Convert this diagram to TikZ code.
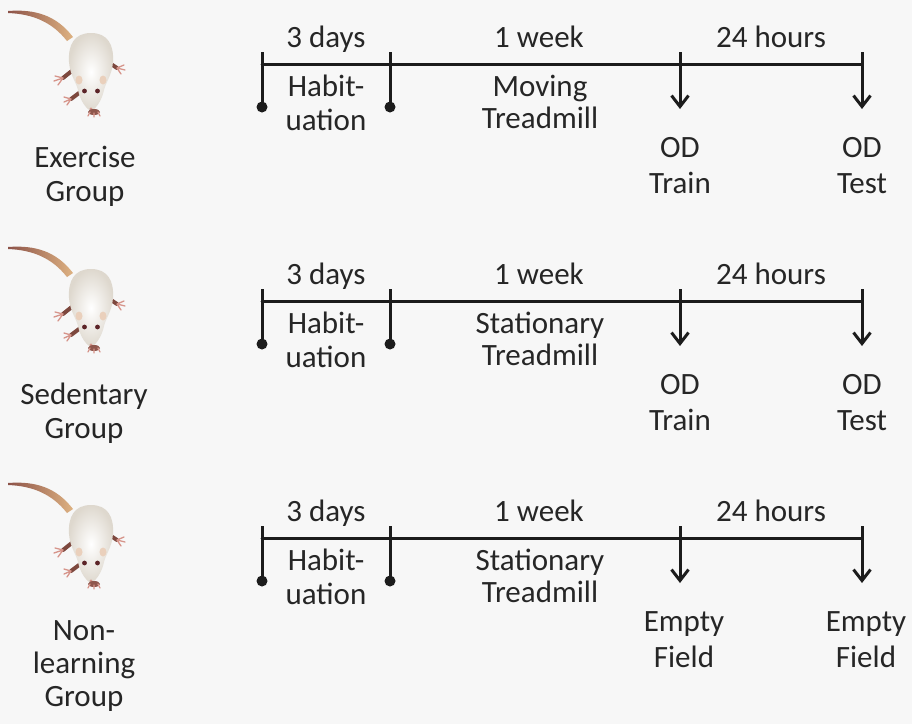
\documentclass[tikz,border=0pt]{standalone}
\usepackage{fontspec}
\setmainfont{Carlito}
\usetikzlibrary{arrows.meta}

\definecolor{ink}{RGB}{28,28,28}
\definecolor{txt}{RGB}{38,38,38}
\definecolor{paper}{RGB}{247,247,247}
\definecolor{fur}{RGB}{222,216,206}
\definecolor{tailtip}{RGB}{140,82,72}
\definecolor{tailbase}{RGB}{222,178,130}
\definecolor{pawdark}{RGB}{125,72,62}
\definecolor{toe}{RGB}{214,148,138}
\definecolor{ear}{RGB}{234,208,188}
\definecolor{eye}{RGB}{92,36,40}

\tikzset{
  lbl/.style={font=\fontsize{31}{36}\selectfont, text=txt, anchor=base, inner sep=0pt},
  axisline/.style={draw=ink, line width=3pt, line cap=round},
  stopline/.style={draw=ink, line width=3pt},
  stopdot/.style={fill=ink},
  eventline/.style={draw=ink, line width=3pt, -{Straight Barb[length=11pt,width=17pt,line width=3pt]}},
  leg/.style={draw=pawdark, line width=4pt, line cap=round},
  toeline/.style={draw=toe, line width=1.3pt, line cap=round},
  % a white rat seen from above, head down
  rat/.pic={
    % tail
    \shade[left color=tailtip, right color=tailbase]
      (8,11) .. controls (35,9) and (56,15) .. (73,37)
      -- (67,41) .. controls (52,22) and (33,14) .. (8,13) -- cycle;
    % legs and toes
    \draw[leg] (108,62) -- (117,68);
    \draw[toeline] (117,68) -- (124,65) (117,68) -- (125,70) (117,68) -- (121,74);
    \draw[leg] (73,70) -- (63,78);
    \draw[toeline] (63,78) -- (55,76) (63,78) -- (54,81) (63,78) -- (58,85);
    \draw[leg] (79,93) -- (71,99);
    \draw[toeline] (71,99) -- (64,97) (71,99) -- (64,102) (71,99) -- (67,105);
    % body and head
    \shade[inner color=white, outer color=fur]
      (91,33) .. controls (108,33) and (114,45) .. (113,62)
      .. controls (112,75) and (106,82) .. (104,90)
      .. controls (102,100) and (96,109) .. (91,111)
      .. controls (86,109) and (80,100) .. (78,90)
      .. controls (76,82) and (70,75) .. (69,62)
      .. controls (68,45) and (74,33) .. (91,33) -- cycle;
    % ears, eyes, nose
    \fill[ear] (79,80) ellipse (3.5 and 4.5);
    \fill[ear] (103,80) ellipse (3.5 and 4.5);
    \fill[eye] (84.5,91) circle (2.4);
    \fill[eye] (97.5,91) circle (2.4);
    \fill[toe] (91,109) circle (1.6);
    % front paws under the chin
    \fill[pawdark!80!toe] (94,112) ellipse (6 and 3);
    \draw[toeline] (90,112) -- (88,116) (94,113) -- (94,117) (98,112) -- (100,116);
  }
}

\begin{document}
\begin{tikzpicture}[x=1pt, y=-1pt]
  \useasboundingbox[fill=paper] (0,0) rectangle (912,724);

  % rats
  \pic at (0,0) {rat};
  \pic at (0,236) {rat};
  \pic at (0,472) {rat};

  % group names
  \node[lbl] (g1a) at (85,167) {Exercise};
  \node[lbl] (g1b) at (85,201) {Group};
  \node[lbl] (g2a) at (84,404) {Sedentary};
  \node[lbl] (g2b) at (84,438) {Group};
  \node[lbl] (g3a) at (84,640) {Non-};
  \node[lbl] (g3b) at (84,673) {learning};
  \node[lbl] (g3c) at (84,706) {Group};

  % one timeline per group
  \foreach \r/\dy/\mid/\evA/\evB/\evC/\sx in
    {1/0/Moving/OD/Train/Test/0,
     2/237/Stationary/OD/Train/Test/0,
     3/474/Stationary/Empty/Field/Field/4}{
    \coordinate (a\r)  at (262,64+\dy);
    \coordinate (b\r)  at (390,64+\dy);
    \coordinate (c\r)  at (680,64+\dy);
    \coordinate (d\r)  at (862,64+\dy);
    \coordinate (at\r) at (262,52+\dy);
    \coordinate (ab\r) at (262,107+\dy);
    \coordinate (bt\r) at (390,52+\dy);
    \coordinate (bb\r) at (390,107+\dy);
    \coordinate (ct\r) at (680,52+\dy);
    \coordinate (cb\r) at (680,109+\dy);
    \coordinate (dt\r) at (862,52+\dy);
    \coordinate (db\r) at (862,109+\dy);

    \draw[axisline] (a\r) -- (d\r);
    \draw[stopline] (at\r) -- (ab\r);
    \draw[stopline] (bt\r) -- (bb\r);
    \fill[stopdot] (ab\r) circle (5.5pt);
    \fill[stopdot] (bb\r) circle (5.5pt);
    \draw[eventline] (ct\r) -- (cb\r);
    \draw[eventline] (dt\r) -- (db\r);

    \node[lbl] (days\r)  at (326,47+\dy) {3 days};
    \node[lbl] (week\r)  at (539,47+\dy) {1 week};
    \node[lbl] (hours\r) at (771,47+\dy) {24 hours};

    \node[lbl] (hab\r)  at (326,96+\dy)  {Habit-};
    \node[lbl] (uat\r)  at (326,130+\dy) {uation};
    \node[lbl] (mid\r)  at (540,96+\dy)  {\mid};
    \node[lbl] (tread\r) at (540,128+\dy) {Treadmill};

    \node[lbl] (e1a\r) at (680+\sx,157+\dy) {\evA};
    \node[lbl] (e1b\r) at (680+\sx,193+\dy) {\evB};
    \node[lbl] (e2a\r) at (862+\sx,157+\dy) {\evA};
    \node[lbl] (e2b\r) at (862+\sx,193+\dy) {\evC};
  }
\end{tikzpicture}
\end{document}
